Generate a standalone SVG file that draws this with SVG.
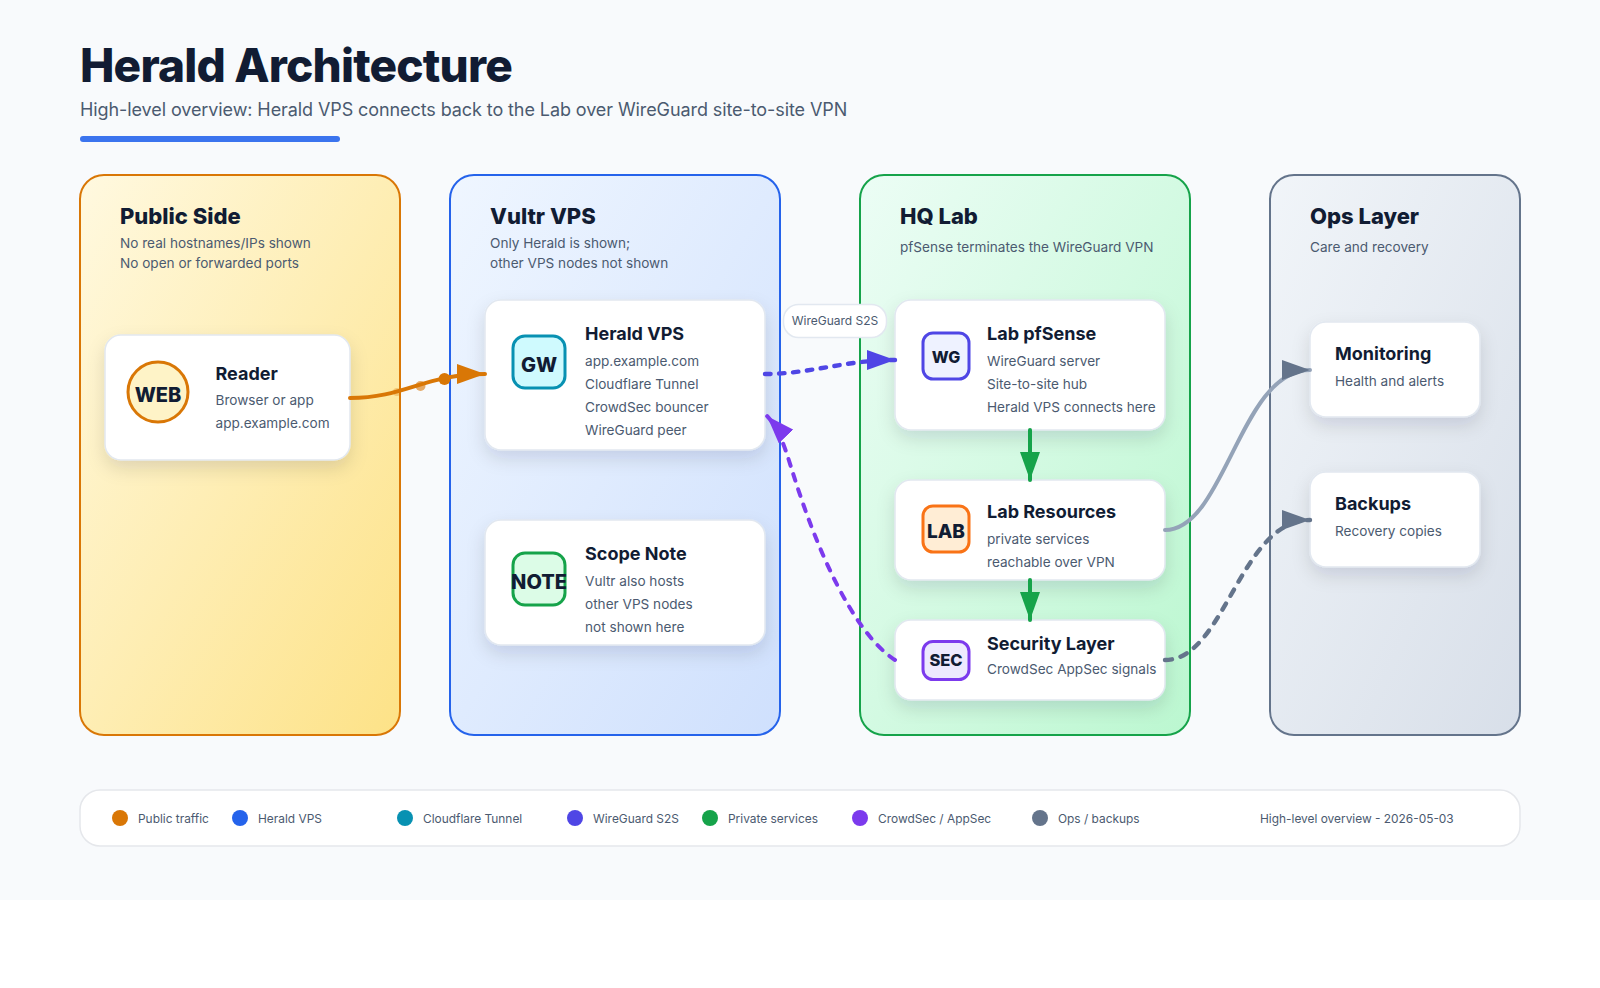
<svg xmlns="http://www.w3.org/2000/svg" width="1600" height="988" viewBox="0 0 1600 988">
<style>
text{font-family:Inter,"Liberation Sans",sans-serif}
.title{font-size:46px;font-weight:800;fill:#111c33;letter-spacing:-.82px}
.subtitle{font-size:18px;fill:#4b5a70;letter-spacing:-.09px}
.ph{font-size:22px;font-weight:800;fill:#111c33}
.ps{font-size:13.6px;fill:#4b5a70}
.nt{font-size:18px;font-weight:700;fill:#111c33}
.ns{font-size:13.6px;fill:#4b5a70}
.ic{font-weight:800;fill:#111c33;text-anchor:middle}
.card{fill:#fff;stroke:#e2e8f0;stroke-width:1.5;filter:url(#sh)}
.panel{stroke-width:2}
.lg{font-size:11.9px;fill:#4b5a70}
.c{fill:none;stroke-width:4;stroke-linecap:round}
</style>
<defs>
<linearGradient id="g1" x1="0" y1="0" x2="1" y2="1"><stop offset="0" stop-color="#fff9e0"/><stop offset="1" stop-color="#fde287"/></linearGradient>
<linearGradient id="g2" x1="0" y1="0" x2="1" y2="1"><stop offset="0" stop-color="#eff6ff"/><stop offset="1" stop-color="#cfe0fd"/></linearGradient>
<linearGradient id="g3" x1="0" y1="0" x2="1" y2="1"><stop offset="0" stop-color="#ecfdf5"/><stop offset="1" stop-color="#bbf7d0"/></linearGradient>
<linearGradient id="g4" x1="0" y1="0" x2="1" y2="1"><stop offset="0" stop-color="#f1f5f9"/><stop offset="1" stop-color="#d8dfe9"/></linearGradient>
<filter id="sh" x="-20%" y="-20%" width="140%" height="150%"><feDropShadow dx="0" dy="8" stdDeviation="9" flood-color="#0f172a" flood-opacity=".12"/></filter>
<marker id="aO" markerUnits="userSpaceOnUse" markerWidth="29" markerHeight="20" refX="28" refY="10" orient="auto"><path d="M0 0L28 10L0 20Z" fill="#d97706"/></marker>
<marker id="aW" markerUnits="userSpaceOnUse" markerWidth="29" markerHeight="20" refX="28" refY="10" orient="auto"><path d="M0 0L28 10L0 20Z" fill="#4f46e5"/></marker>
<marker id="aG" markerUnits="userSpaceOnUse" markerWidth="29" markerHeight="20" refX="28" refY="10" orient="auto"><path d="M0 0L28 10L0 20Z" fill="#16a34a"/></marker>
<marker id="aP" markerUnits="userSpaceOnUse" markerWidth="29" markerHeight="20" refX="28" refY="10" orient="auto"><path d="M0 0L28 10L0 20Z" fill="#7c3aed"/></marker>
<marker id="aS" markerUnits="userSpaceOnUse" markerWidth="29" markerHeight="20" refX="28" refY="10" orient="auto"><path d="M0 0L28 10L0 20Z" fill="#64748b"/></marker>
</defs>
<rect width="1600" height="988" fill="#fff"/>
<rect width="1600" height="900" fill="#f8fafc"/>
<g id="header">
<text class="title" x="80" y="82">Herald Architecture</text>
<text class="subtitle" x="80" y="116">High-level overview: Herald VPS connects back to the Lab over WireGuard site-to-site VPN</text>
<rect x="80" y="136" width="260" height="6" rx="3" fill="#3b74ee"/>
</g>
<g id="panel-public"><rect class="panel" x="80" y="175" width="320" height="560" rx="24" fill="url(#g1)" stroke="#d97706"/>
<text class="ph" x="120" y="224">Public Side</text><text class="ps" x="120" y="248">No real hostnames/IPs shown</text><text class="ps" x="120" y="268">No open or forwarded ports</text></g>
<g id="panel-vultr"><rect class="panel" x="450" y="175" width="330" height="560" rx="24" fill="url(#g2)" stroke="#2563eb"/>
<text class="ph" x="490" y="224">Vultr VPS</text><text class="ps" x="490" y="248">Only Herald is shown;</text><text class="ps" x="490" y="268">other VPS nodes not shown</text></g>
<g id="panel-hq"><rect class="panel" x="860" y="175" width="330" height="560" rx="24" fill="url(#g3)" stroke="#16a34a"/>
<text class="ph" x="900" y="224">HQ Lab</text><text class="ps" x="900" y="252">pfSense terminates the WireGuard VPN</text></g>
<g id="panel-ops"><rect class="panel" x="1270" y="175" width="250" height="560" rx="24" fill="url(#g4)" stroke="#64748b"/>
<text class="ph" x="1310" y="224">Ops Layer</text><text class="ps" x="1310" y="252">Care and recovery</text></g>

<g id="node-reader"><rect class="card" x="105" y="335" width="245" height="125" rx="16"/>
<circle cx="158" cy="392" r="30" fill="#fef3c7" stroke="#d97706" stroke-width="3"/><text class="ic" x="158" y="402" font-size="20">WEB</text>
<text class="nt" x="215.500" y="380">Reader</text><text class="ns" x="215.500" y="405">Browser or app</text><text class="ns" x="215.500" y="428">app.example.com</text></g>
<g id="node-herald"><rect class="card" x="485" y="300" width="280" height="150" rx="16"/>
<rect x="513" y="336" width="52" height="52" rx="12" fill="#cffafe" stroke="#0891b2" stroke-width="3"/><text class="ic" x="539" y="372" font-size="20">GW</text>
<text class="nt" x="585" y="340">Herald VPS</text><text class="ns" x="585" y="366">app.example.com</text><text class="ns" x="585" y="389">Cloudflare Tunnel</text><text class="ns" x="585" y="412">CrowdSec bouncer</text><text class="ns" x="585" y="435">WireGuard peer</text></g>
<g id="node-scope"><rect class="card" x="485" y="520" width="280" height="125" rx="16"/>
<rect x="513" y="553" width="52" height="52" rx="12" fill="#dcfce7" stroke="#16a34a" stroke-width="3"/><text class="ic" x="539" y="589" font-size="20">NOTE</text>
<text class="nt" x="585" y="560">Scope Note</text><text class="ns" x="585" y="586">Vultr also hosts</text><text class="ns" x="585" y="609">other VPS nodes</text><text class="ns" x="585" y="632">not shown here</text></g>
<g id="node-pfsense"><rect class="card" x="895" y="300" width="270" height="130" rx="16"/>
<rect x="923" y="333" width="46" height="46" rx="10" fill="#eef2ff" stroke="#4f46e5" stroke-width="3"/><text class="ic" x="946" y="363" font-size="16">WG</text>
<text class="nt" x="987" y="340">Lab pfSense</text><text class="ns" x="987" y="366">WireGuard server</text><text class="ns" x="987" y="389">Site-to-site hub</text><text class="ns" x="987" y="412">Herald VPS connects here</text></g>
<g id="node-resources"><rect class="card" x="895" y="480" width="270" height="100" rx="16"/>
<rect x="923" y="506" width="46" height="46" rx="10" fill="#ffedd5" stroke="#f97316" stroke-width="3"/><text class="ic" x="946" y="537.500" font-size="19">LAB</text>
<text class="nt" x="987" y="518">Lab Resources</text><text class="ns" x="987" y="544">private services</text><text class="ns" x="987" y="567">reachable over VPN</text></g>
<g id="node-security"><rect class="card" x="895" y="620" width="270" height="80" rx="16"/>
<rect x="923" y="641.500" width="46" height="38" rx="10" fill="#ede9fe" stroke="#7c3aed" stroke-width="3"/><text class="ic" x="946" y="666" font-size="16.500">SEC</text>
<text class="nt" x="987" y="650">Security Layer</text><text class="ns" x="987" y="674">CrowdSec AppSec signals</text></g>
<g id="node-monitoring"><rect class="card" x="1310" y="322" width="170" height="95" rx="16"/>
<text class="nt" x="1335" y="360">Monitoring</text><text class="ns" x="1335" y="386">Health and alerts</text></g>
<g id="node-backups"><rect class="card" x="1310" y="472" width="170" height="95" rx="16"/>
<text class="nt" x="1335" y="510">Backups</text><text class="ns" x="1335" y="536">Recovery copies</text></g>

<g id="connectors">
<circle cx="397" cy="392" r="4" fill="#d97706" opacity=".3"/>
<circle cx="420.500" cy="386" r="5" fill="#d97706" opacity=".6"/>
<circle cx="444.500" cy="379" r="6" fill="#d97706"/>
<path class="c" d="M350 398C405 398 425 374 485 374" stroke="#d97706" marker-end="url(#aO)"/>
<path class="c" style="stroke-width:4.4" d="M765 374C810 374 845 360 895 360" stroke="#4f46e5" stroke-dasharray="5.5 8.5" marker-end="url(#aW)"/>
<path class="c" d="M1030 430L1030 480" stroke="#16a34a" marker-end="url(#aG)"/>
<path class="c" d="M1030 580L1030 620" stroke="#16a34a" marker-end="url(#aG)"/>
<path class="c" d="M895 660C852 632 815 545 792 470C787 455 781 431 767 416" stroke="#7c3aed" stroke-dasharray="7 9" marker-end="url(#aP)"/>
<path class="c" d="M1165 530C1225 530 1240 370 1310 370" stroke="#94a3b8" marker-end="url(#aS)"/>
<path class="c" style="stroke-width:4.4" d="M1165 660C1225 660 1240 520 1310 520" stroke="#64748b" stroke-dasharray="7 9" marker-end="url(#aS)"/>
<g id="label-wireguard"><rect x="783.500" y="304.500" width="103" height="33" rx="15" fill="#fff" stroke="#e2e8f0" stroke-width="1.500"/><text x="835" y="324.500" font-size="12" fill="#4b5a70" text-anchor="middle">WireGuard S2S</text></g>
</g>

<g id="legend">
<rect x="80" y="790" width="1440" height="56" rx="20" fill="#fff" stroke="#e5e7eb" stroke-width="1.500"/>
<circle cx="120" cy="818" r="8" fill="#d97706"/><text class="lg" x="138" y="823">Public traffic</text>
<circle cx="240" cy="818" r="8" fill="#2563eb"/><text class="lg" x="258" y="823">Herald VPS</text>
<circle cx="405" cy="818" r="8" fill="#0891b2"/><text class="lg" x="423" y="823">Cloudflare Tunnel</text>
<circle cx="575" cy="818" r="8" fill="#4f46e5"/><text class="lg" x="593" y="823">WireGuard S2S</text>
<circle cx="710" cy="818" r="8" fill="#16a34a"/><text class="lg" x="728" y="823">Private services</text>
<circle cx="860" cy="818" r="8" fill="#7c3aed"/><text class="lg" x="878" y="823">CrowdSec / AppSec</text>
<circle cx="1040" cy="818" r="8" fill="#64748b"/><text class="lg" x="1058" y="823">Ops / backups</text>
<text class="lg" x="1260" y="823">High-level overview - 2026-05-03</text>
</g>
</svg>
